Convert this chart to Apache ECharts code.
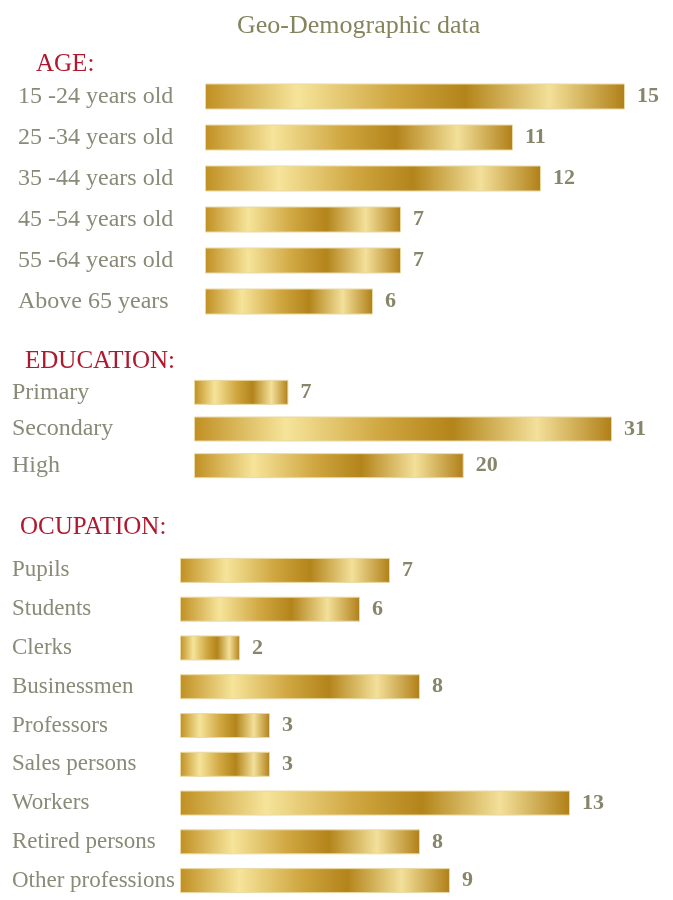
<!DOCTYPE html>
<html>
<head>
<meta charset="utf-8">
<script src="https://cdn.jsdelivr.net/npm/echarts@6/dist/echarts.min.js"></script>
<style>
  html, body { margin: 0; padding: 0; background: #fff; }
  #chart { width: 673px; height: 900px; }
</style>
</head>
<body>
<div id="chart"></div>
<script>
var ageCats = ['15 -24 years old', '25 -34 years old', '35 -44 years old', '45 -54 years old', '55 -64 years old', 'Above 65 years'];
var ageVals = [15, 11, 12, 7, 7, 6];

var eduCats = ['Primary', 'Secondary', 'High'];
var eduVals = [7, 31, 20];

var occCats = ['Pupils', 'Students', 'Clerks', 'Businessmen', 'Professors', 'Sales persons', 'Workers', 'Retired persons', 'Other professions'];
var occVals = [7, 6, 2, 8, 3, 3, 13, 8, 9];

var serif = '"Liberation Serif", "DejaVu Serif", serif';

var gold = new echarts.graphic.LinearGradient(0, 0, 1, 0, [
  { offset: 0, color: '#c08f22' },
  { offset: 0.22, color: '#f6e49a' },
  { offset: 0.45, color: '#cfa640' },
  { offset: 0.62, color: '#b3841a' },
  { offset: 0.82, color: '#f3e09a' },
  { offset: 1, color: '#b07f17' }
]);

var chart = echarts.init(document.getElementById('chart'));

function yAx(idx, cats, left, size) {
  return {
    type: 'category',
    gridIndex: idx,
    data: cats,
    inverse: true,
    axisLine: { show: false },
    axisTick: { show: false },
    axisLabel: {
      align: 'left',
      margin: left,
      color: '#8a8a78',
      fontFamily: serif,
      fontSize: size
    }
  };
}

function xAx(idx, max) {
  return { type: 'value', gridIndex: idx, min: 0, max: max, show: false };
}

function bars(idx, vals, w) {
  return {
    type: 'bar',
    xAxisIndex: idx,
    yAxisIndex: idx,
    data: vals,
    barWidth: w,
    itemStyle: { color: gold, borderColor: '#e9d9a4', borderWidth: 1 },
    label: {
      show: true,
      position: 'right',
      distance: 12,
      color: '#87866a',
      fontFamily: serif,
      fontWeight: 'bold',
      fontSize: 22
    }
  };
}

var head = { color: '#b0182e', fontFamily: serif, fontSize: 25, fontWeight: 'normal' };

chart.setOption({
  backgroundColor: '#fff',
  animation: false,
  title: [
    { text: 'Geo-Demographic data', left: 232, top: 8,
      textStyle: { color: '#85845e', fontFamily: serif, fontSize: 26, fontWeight: 'normal' } },
    { text: 'AGE:', left: 31, top: 47, textStyle: head },
    { text: 'EDUCATION:', left: 20, top: 344, textStyle: head },
    { text: 'OCUPATION:', left: 15, top: 510, textStyle: head }
  ],
  grid: [
    { left: 205, top: 76, width: 448, height: 246 },
    { left: 194, top: 374, width: 472, height: 110 },
    { left: 180, top: 551, width: 480, height: 351 }
  ],
  xAxis: [xAx(0, 16), xAx(1, 35), xAx(2, 16)],
  yAxis: [yAx(0, ageCats, 187, 24), yAx(1, eduCats, 182, 24), yAx(2, occCats, 168, 23)],
  series: [bars(0, ageVals, 26), bars(1, eduVals, 25), bars(2, occVals, 25)]
});
</script>
</body>
</html>
